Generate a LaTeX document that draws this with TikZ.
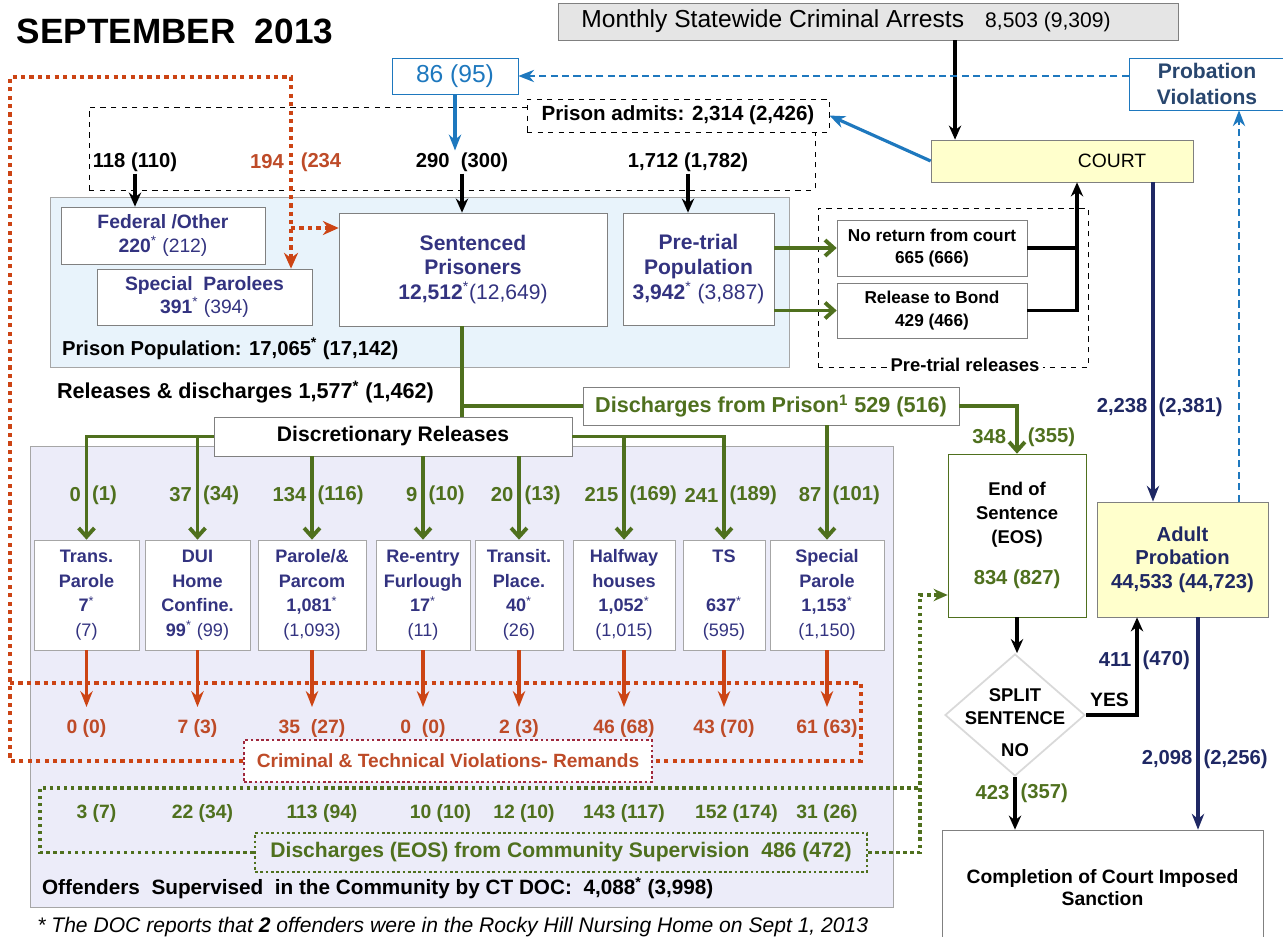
\documentclass[tikz,border=0pt]{standalone}
\usepackage{fontspec}
\setmainfont{Liberation Sans}
\usetikzlibrary{positioning, arrows.meta, shapes.geometric, calc}

\definecolor{navytext}{RGB}{51,51,128}
\definecolor{relgreen}{RGB}{79,112,30}
\definecolor{remred}{RGB}{204,68,20}
\definecolor{remtext}{RGB}{190,75,40}
\definecolor{remframe}{RGB}{160,40,60}
\definecolor{admblue}{RGB}{30,120,190}
\definecolor{probnavy}{RGB}{31,40,100}
\definecolor{probtext}{RGB}{40,70,110}
\definecolor{prisonfill}{RGB}{232,243,251}
\definecolor{commfill}{RGB}{236,236,249}
\definecolor{courtfill}{RGB}{255,255,204}
\definecolor{arrestfill}{RGB}{229,229,229}

\begin{document}
\begin{tikzpicture}[x=0.02cm, y=-0.02cm,
	box/.style={draw, rectangle, fill=white, text centered, align=center, inner sep=1pt},
	region/.style={draw=gray!70, rectangle, inner sep=0pt},
	popbox/.style={box, draw=gray, text=navytext, font=\fontsize{11}{13.5}\selectfont},
	relbox/.style={box, draw=gray!70, text=navytext, minimum height=2.2cm, font=\fontsize{10.3}{14}\selectfont},
	lbl/.style={font=\bfseries\fontsize{11.5}{14}\selectfont, inner sep=1pt},
	glbl/.style={lbl, text=relgreen},
	rlbl/.style={lbl, text=remtext, font=\bfseries\fontsize{11}{13}\selectfont},
	nlbl/.style={lbl, text=probnavy},
	blk/.style={line width=1.8pt, -{Stealth[length=8pt,width=7pt]}},
	grn/.style={draw=relgreen, line width=2.2pt},
	grnarrow/.style={grn, -{Straight Barb[length=5pt,width=9pt]}},
	redarrow/.style={draw=remred, line width=1.8pt, -{Stealth[length=9pt,width=7pt]}},
	rdot/.style={draw=remred, line width=2.4pt, dash pattern=on 2.4pt off 2.4pt},
	gdot/.style={draw=relgreen, line width=2pt, dash pattern=on 2pt off 2pt},
	navyarrow/.style={draw=probnavy, line width=1.8pt, -{Stealth[length=9pt,width=7pt]}},
	bluearrow/.style={draw=admblue, line width=1.8pt, -{Stealth[length=9pt,width=7pt]}},
	bluedash/.style={draw=admblue, line width=1pt, dash pattern=on 4pt off 2.5pt, -{Stealth[length=9pt,width=7pt]}}
	]
	\useasboundingbox (0,0) rectangle (1283,936);
	
	%Regions
	\node (admitarea) at (452,148.5) [draw, dashed, thin, minimum width=14.52cm, minimum height=1.66cm]{};
	\node (prisonpop) at (419.5,282) [region, fill=prisonfill, minimum width=14.78cm, minimum height=3.4cm]{};
	\node (pretrialrel) at (953,287.5) [draw, dashed, thin, minimum width=5.4cm, minimum height=3.18cm]{};
	\node (community) at (461.5,676.5) [region, fill=commfill, minimum width=17.26cm, minimum height=9.22cm]{};
	
	%Nodes
	\node (title) at (175,31) [font=\bfseries\fontsize{20}{24}\selectfont]{SEPTEMBER\ \ 2013};
	
	\node (arrests) at (868,21.5) [box, fill=arrestfill, draw=gray, minimum width=12.4cm, 
	minimum height=0.74cm]{{\fontsize{14}{16}\selectfont Monthly Statewide Criminal Arrests}\hspace{1.2em}{\fontsize{12}{14}\selectfont 8,503 (9,309)}\hspace*{0.88cm}};
	
	\node (court) at (1062,161) [box, fill=courtfill, draw=gray, minimum width=5.24cm, 
	minimum height=0.84cm, font=\fontsize{11}{13}\selectfont]{\hspace*{2cm}COURT};
	
	\node (probviol) at (1207,84) [box, draw=admblue, text=probtext, minimum width=3.12cm, 
	minimum height=1.04cm, font=\bfseries\fontsize{12}{15}\selectfont]{Probation\\Violations};
	
	\node (pv86) at (455,76) [box, draw=admblue, text=admblue, minimum width=2.52cm, 
	minimum height=0.72cm, font=\fontsize{14}{16}\selectfont]{86 (95)};
	
	\node (admits) at (678,115.5) [box, dashed, minimum width=6.04cm, minimum height=0.66cm, 
	font=\bfseries\fontsize{11.7}{14}\selectfont]{Prison admits: 2,314 (2,426)};
	
	\node (adm118) at (135,162) [lbl]{118 (110)};
	\node (adm194) at (267,162) [rlbl, font=\bfseries\fontsize{11.5}{14}\selectfont]{194};
	\node (adm234) at (321,162) [rlbl, font=\bfseries\fontsize{11.5}{14}\selectfont]{(234};
	\node (adm290) at (462,162) [lbl]{290\ \ (300)};
	\node (adm1712) at (688,162) [lbl]{1,712 (1,782)};
	
	\node (federal) at (163,235.5) [popbox, minimum width=4.08cm, minimum height=1.14cm]
	{\textbf{Federal /Other}\\\textbf{220}\textsuperscript{*} (212)};
	
	\node (specpar) at (204.5,297) [popbox, minimum width=4.3cm, minimum height=1.12cm]
	{\textbf{Special\ \ Parolees}\\\textbf{391}\textsuperscript{*} (394)};
	
	\node (sentenced) at (473,269.5) [popbox, minimum width=5.36cm, minimum height=2.26cm, 
	font=\fontsize{12}{14}\selectfont]
	{\textbf{Sentenced}\\\textbf{Prisoners}\\\textbf{12,512}\textsuperscript{*}(12,649)};
	
	\node (pretrial) at (698.5,269) [popbox, minimum width=3.02cm, minimum height=2.24cm, 
	font=\fontsize{12}{14}\selectfont]
	{\textbf{Pre-trial}\\\textbf{Population}\\\textbf{3,942}\textsuperscript{*} (3,887)};
	
	\node (noreturn) at (932,248) [box, draw=gray, minimum width=3.8cm, minimum height=1.12cm, 
	font=\bfseries\fontsize{9.8}{13}\selectfont]{No return from court\\665 (666)};
	
	\node (bond) at (932,310.5) [box, draw=gray, minimum width=3.8cm, minimum height=1.1cm, 
	font=\bfseries\fontsize{9.8}{13}\selectfont]{Release to Bond\\429 (466)};
	
	\node (ptlabel) at (965,365) [lbl, fill=white, inner sep=2pt, font=\bfseries\fontsize{10.5}{13}\selectfont]{Pre-trial releases};
	\node (poplabel) at (60,349) [lbl, anchor=west, font=\bfseries\fontsize{11.5}{14}\selectfont]{Prison Population: 17,065\textsuperscript{*} (17,142)};
	\node (rellabel) at (55,392) [lbl, anchor=west, font=\bfseries\fontsize{12.3}{14}\selectfont]{Releases \& discharges 1,577\textsuperscript{*} (1,462)};
	
	\node (dischp) at (771,406) [box, draw=gray, text=relgreen, minimum width=7.52cm, 
	minimum height=0.76cm, font=\bfseries\fontsize{12.3}{14}\selectfont]{Discharges from Prison\textsuperscript{1} 529 (516)};
	
	\node (disc) at (393,436.5) [box, draw=gray, minimum width=7.16cm, minimum height=0.78cm, 
	font=\bfseries\fontsize{12}{14}\selectfont]{Discretionary Releases};
	
	\node (tpar) at (86.5,595) [relbox, minimum width=2.1cm]{\textbf{Trans.}\\\textbf{Parole}\\\textbf{7}\textsuperscript{*}\\(7)};
	\node (dui) at (197.5,595) [relbox, minimum width=2.1cm]{\textbf{DUI}\\\textbf{Home}\\\textbf{Confine.}\\\textbf{99}\textsuperscript{*} (99)};
	\node (pcom) at (312,595) [relbox, minimum width=2.16cm]{\textbf{Parole/\&}\\\textbf{Parcom}\\\textbf{1,081}\textsuperscript{*}\\(1,093)};
	\node (reent) at (423,595) [relbox, minimum width=1.88cm]{\textbf{Re-entry}\\\textbf{Furlough}\\\textbf{17}\textsuperscript{*}\\(11)};
	\node (trans) at (519,595) [relbox, minimum width=1.76cm]{\textbf{Transit.}\\\textbf{Place.}\\\textbf{40}\textsuperscript{*}\\(26)};
	\node (half) at (624,595) [relbox, minimum width=2.04cm]{\textbf{Halfway}\\\textbf{houses}\\\textbf{1,052}\textsuperscript{*}\\(1,015)};
	\node (ts) at (724,595) [relbox, minimum width=1.64cm]{\textbf{TS}\\\mbox{}\\\textbf{637}\textsuperscript{*}\\(595)};
	\node (spar) at (827,595) [relbox, minimum width=2.28cm]{\textbf{Special}\\\textbf{Parole}\\\textbf{1,153}\textsuperscript{*}\\(1,150)};
	
	\node (remands) at (448,761) [box, draw=remframe, line width=1.5pt, dash pattern=on 1.5pt off 1.5pt, 
	text=remtext, minimum width=8.16cm, minimum height=0.84cm, font=\bfseries\fontsize{10.9}{13}\selectfont]{Criminal \& Technical Violations- Remands};
	
	\node (dischcs) at (561,852.5) [box, fill=none, draw=relgreen, line width=1.5pt, dash pattern=on 1.5pt off 1.5pt, 
	text=relgreen, minimum width=12.24cm, minimum height=0.78cm, font=\bfseries\fontsize{12}{14}\selectfont]{Discharges (EOS) from Community Supervision\ \ 486 (472)};
	
	\node (commlabel) at (40,888) [lbl, anchor=west, font=\bfseries\fontsize{11.8}{14}\selectfont]{Offenders\ \ Supervised\ \ in the Community by CT DOC:\ \ 4,088\textsuperscript{*} (3,998)};
	
	\node (eos) at (1017,535.5) [box, draw=relgreen, minimum width=2.76cm, minimum height=3.26cm, 
	font=\bfseries\fontsize{10.5}{13.5}\selectfont]{End of\\Sentence\\(EOS)\\[10pt]\textcolor{relgreen}{\fontsize{11.5}{13}\selectfont 834 (827)}};
	
	\node (adprob) at (1182.5,559.5) [box, fill=courtfill, draw=gray, text=probnavy, minimum width=3.42cm, 
	minimum height=2.3cm, font=\bfseries\fontsize{11.5}{13.5}\selectfont]{Adult\\Probation\\44,533 (44,723)};
	
	\node (split) at (1015,715) [draw=gray!30, line width=1pt, diamond, fill=white, minimum width=2.8cm, 
	minimum height=2.44cm, inner sep=0pt]{};
	\node (splitlbl) at ([yshift=0.16cm]split.center) [lbl, align=center, font=\bfseries\fontsize{10.5}{13}\selectfont]{SPLIT\\SENTENCE};
	\node (splitno) at ([yshift=-0.7cm]split.center) [lbl, font=\bfseries\fontsize{10.5}{13}\selectfont]{NO};
	\node (splityes) at (1088,700) [lbl, anchor=west, font=\bfseries\fontsize{11}{13}\selectfont]{YES};
	
	\node (compl) at (1102.5,887.5) [box, draw=gray, minimum width=6.42cm, minimum height=2.3cm, 
	font=\bfseries\fontsize{11}{13}\selectfont]{Completion of Court Imposed\\Sanction};
	
	\node (foot) at (37,927) [anchor=west, inner sep=0pt, font=\itshape\fontsize{12}{14}\selectfont]
	{* The DOC reports that \textbf{2} offenders were in the Rocky Hill Nursing Home on Sept 1, 2013};
	
	%Helper coordinates
	\coordinate (arrin) at ([xshift=-2.14cm]court.north);
	\coordinate (ptup) at ([xshift=0.3cm]court.south);
	\coordinate (cdown) at ([xshift=1.82cm]court.south);
	\coordinate (pvup) at ([xshift=1.13cm]adprob.north);
	\coordinate (sdown) at ([xshift=-0.22cm]sentenced.south);
	\coordinate (apin) at ([xshift=-0.91cm]adprob.south);
	\coordinate (apout) at ([xshift=0.31cm]adprob.south);
	\coordinate (eosin) at ([yshift=-1.19cm]eos.west);
	\coordinate (rdtl) at (10,77);
	\coordinate (rdtr) at (291,77);
	\coordinate (rdmid) at (291,228);
	\coordinate (rdbl) at (10,683);
	\coordinate (rdbr) at (861,683);
	\coordinate (gdtl) at (40,788);
	\coordinate (gdtr) at (920,788);
	\coordinate (ylab1) at (0,407);
	\coordinate (ylab2) at (0,437);
	\coordinate (rowa) at (0,495);
	\coordinate (yred) at (0,707);
	\coordinate (rowr) at (0,728);
	\coordinate (rowg) at (0,813);
	\coordinate (ylab3) at (0,660);
	\coordinate (ylab4) at (0,759);
	\coordinate (ylab5) at (0,793);
	
	%Links
	\draw[blk] (arrin |- arrests.south) -- (arrin);
	\draw[bluearrow] (court.west) -- (admits.east);
	\draw[bluedash] (probviol.west |- pv86) -- (pv86.east);
	\draw[bluearrow] (pv86.south) -- (pv86.south |- adm290.north);
	\draw[bluedash] (pvup) -- (pvup |- probviol.south);
	
	\draw[blk] (adm118.south) -- (adm118.south |- federal.north);
	\draw[blk] (adm290.south) -- (adm290.south |- sentenced.north);
	\draw[blk] (adm1712.south) -- (adm1712.south |- pretrial.north);
	
	\draw[grnarrow] (pretrial.east |- noreturn) -- (noreturn.west);
	\draw[grnarrow] (pretrial.east |- bond) -- (bond.west);
	\draw[line width=1.8pt] (noreturn.east) -- (noreturn.east -| ptup);
	\draw[blk] (bond.east) -| (ptup);
	
	\draw[navyarrow] (cdown) -- (cdown |- adprob.north);
	
	\draw[grn] (sdown) -- (sdown |- disc.north);
	\draw[grn] (sdown |- dischp.west) -- (dischp.west);
	\draw[grnarrow] (dischp.east) -| (eos.north);
	\draw[grnarrow] (dischp.south -| spar.north) -- (spar.north);
	
	\draw[grnarrow] (disc.west) -| (tpar.north);
	\draw[grnarrow] (disc.west) -| (dui.north);
	\draw[grnarrow] (disc.south -| pcom.north) -- (pcom.north);
	\draw[grnarrow] (disc.south -| reent.north) -- (reent.north);
	\draw[grnarrow] (disc.south -| trans.north) -- (trans.north);
	\draw[grnarrow] (disc.east) -| (half.north);
	\draw[grnarrow] (disc.east) -| (ts.north);
	
	\draw[redarrow] (tpar.south) -- (tpar.south |- yred);
	\draw[redarrow] (dui.south) -- (dui.south |- yred);
	\draw[redarrow] (pcom.south) -- (pcom.south |- yred);
	\draw[redarrow] (reent.south) -- (reent.south |- yred);
	\draw[redarrow] (trans.south) -- (trans.south |- yred);
	\draw[redarrow] (half.south) -- (half.south |- yred);
	\draw[redarrow] (ts.south) -- (ts.south |- yred);
	\draw[redarrow] (spar.south) -- (spar.south |- yred);
	
	\draw[rdot, -{Stealth[length=9pt,width=8pt]}] (remands.west) -| (rdtl) -- (rdtr) -- (rdtr |- specpar.north);
	\draw[rdot, -{Stealth[length=9pt,width=8pt]}] (rdmid) -- (rdmid -| sentenced.west);
	\draw[rdot] (rdbl) -- (rdbr) |- (remands.east);
	
	\draw[gdot] (dischcs.west) -| (gdtl) -- (gdtr);
	\draw[gdot, -{Stealth[length=8pt,width=7pt]}] (dischcs.east) -| (gdtr |- eosin) -- (eosin);
	
	\draw[blk] (eos.south) -- (eos.south |- split.north);
	\draw[blk] (split.east) -| (apin);
	\draw[blk] (split.south) -- (split.south |- compl.north);
	\draw[navyarrow] (apout) -- (apout |- compl.north);
	
	%Variables
	\node (v2238) at (cdown |- ylab1) [nlbl, anchor=east, xshift=-2pt]{2,238};
	\node (v2381) at (cdown |- ylab1) [nlbl, anchor=west, xshift=2pt]{(2,381)};
	\node (v348) at (eos.north |- ylab2) [glbl, anchor=east, xshift=-5pt]{348};
	\node (v355) at (eos.north |- ylab2) [glbl, anchor=west, xshift=5pt]{(355)};
	\node (v411) at (apin |- ylab3) [nlbl, anchor=east, xshift=-2pt]{411};
	\node (v470) at (apin |- ylab3) [nlbl, anchor=west, xshift=2pt]{(470)};
	\node (v2098) at (apout |- ylab4) [nlbl, anchor=east, xshift=-2pt]{2,098};
	\node (v2256) at (apout |- ylab4) [nlbl, anchor=west, xshift=2pt]{(2,256)};
	\node (v423) at (split.south |- ylab5) [glbl, anchor=east, xshift=-2pt]{423};
	\node (v357) at (split.south |- ylab5) [glbl, anchor=west, xshift=2pt]{(357)};
	
	\node (tparl) at (tpar.north |- rowa) [glbl, anchor=east, xshift=-2pt]{0};
	\node (tparr) at (tpar.north |- rowa) [glbl, anchor=west, xshift=2pt]{(1)};
	\node (duil) at (dui.north |- rowa) [glbl, anchor=east, xshift=-2pt]{37};
	\node (duir) at (dui.north |- rowa) [glbl, anchor=west, xshift=2pt]{(34)};
	\node (pcoml) at (pcom.north |- rowa) [glbl, anchor=east, xshift=-2pt]{134};
	\node (pcomr) at (pcom.north |- rowa) [glbl, anchor=west, xshift=2pt]{(116)};
	\node (reentl) at (reent.north |- rowa) [glbl, anchor=east, xshift=-2pt]{9};
	\node (reentr) at (reent.north |- rowa) [glbl, anchor=west, xshift=2pt]{(10)};
	\node (transl) at (trans.north |- rowa) [glbl, anchor=east, xshift=-2pt]{20};
	\node (transr) at (trans.north |- rowa) [glbl, anchor=west, xshift=2pt]{(13)};
	\node (halfl) at (half.north |- rowa) [glbl, anchor=east, xshift=-2pt]{215};
	\node (halfr) at (half.north |- rowa) [glbl, anchor=west, xshift=2pt]{(169)};
	\node (tsl) at (ts.north |- rowa) [glbl, anchor=east, xshift=-2pt]{241};
	\node (tsr) at (ts.north |- rowa) [glbl, anchor=west, xshift=2pt]{(189)};
	\node (sparl) at (spar.north |- rowa) [glbl, anchor=east, xshift=-2pt]{87};
	\node (sparr) at (spar.north |- rowa) [glbl, anchor=west, xshift=2pt]{(101)};
	
	\node (tparm) at (tpar.south |- rowr) [rlbl]{0 (0)};
	\node (duim) at (dui.south |- rowr) [rlbl]{7 (3)};
	\node (pcomm) at (pcom.south |- rowr) [rlbl]{35\ \ (27)};
	\node (reentm) at (reent.south |- rowr) [rlbl]{0\ \ (0)};
	\node (transm) at (trans.south |- rowr) [rlbl]{2 (3)};
	\node (halfm) at (half.south |- rowr) [rlbl]{46 (68)};
	\node (tsm) at (ts.south |- rowr) [rlbl]{43 (70)};
	\node (sparm) at (spar.south |- rowr) [rlbl]{61 (63)};
	
	\node (tpare) at ([xshift=0.2cm]tpar.south |- rowg) [glbl, font=\bfseries\fontsize{11}{13}\selectfont]{3 (7)};
	\node (duie) at ([xshift=0.1cm]dui.south |- rowg) [glbl, font=\bfseries\fontsize{11}{13}\selectfont]{22 (34)};
	\node (pcome) at ([xshift=0.2cm]pcom.south |- rowg) [glbl, font=\bfseries\fontsize{11}{13}\selectfont]{113 (94)};
	\node (reente) at ([xshift=0.35cm]reent.south |- rowg) [glbl, font=\bfseries\fontsize{11}{13}\selectfont]{10 (10)};
	\node (transe) at ([xshift=0.1cm]trans.south |- rowg) [glbl, font=\bfseries\fontsize{11}{13}\selectfont]{12 (10)};
	\node (halfe) at (half.south |- rowg) [glbl, font=\bfseries\fontsize{11}{13}\selectfont]{143 (117)};
	\node (tse) at ([xshift=0.25cm]ts.south |- rowg) [glbl, font=\bfseries\fontsize{11}{13}\selectfont]{152 (174)};
	\node (spare) at (spar.south |- rowg) [glbl, font=\bfseries\fontsize{11}{13}\selectfont]{31 (26)};
	
\end{tikzpicture}
\end{document}
